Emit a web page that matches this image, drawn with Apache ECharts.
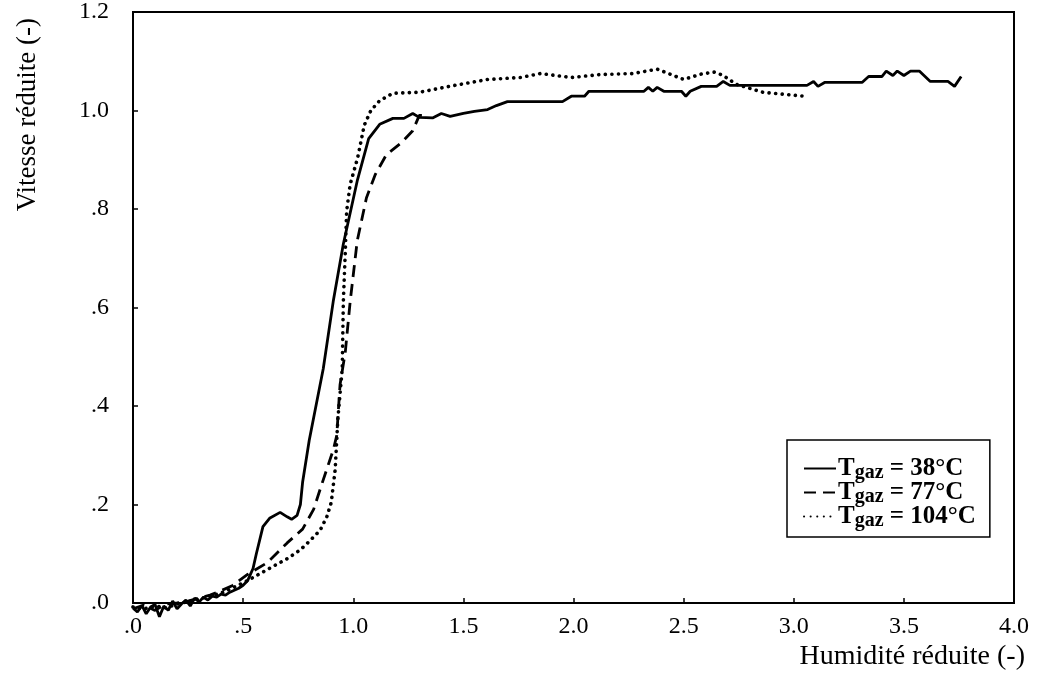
<!DOCTYPE html>
<html><head><meta charset="utf-8">
<script src="https://cdn.jsdelivr.net/npm/echarts@6/dist/echarts.min.js"></script>
<style>html,body{margin:0;padding:0;background:#fff}#c{width:1040px;height:681px}</style>
</head><body><div id="c"></div>
<script>
const xTicks = [0, 0.5, 1.0, 1.5, 2.0, 2.5, 3.0, 3.5, 4.0];
const yTicks = [0, 0.2, 0.4, 0.6, 0.8, 1.0, 1.2];
const seriesNames = ['Tgaz = 38°C', 'Tgaz = 77°C', 'Tgaz = 104°C'];
const seriesTemps = ['38°C', '77°C', '104°C'];

const t38 = [[0,-0.01],[0.02,-0.018],[0.04,-0.005],[0.06,-0.022],[0.08,-0.008],[0.1,-0.003],[0.12,-0.028],[0.14,-0.006],[0.16,-0.015],[0.18,0.004],[0.2,-0.012],[0.22,-0.002],[0.24,0.006],[0.26,-0.006],[0.28,0.01],[0.3,0.002],[0.32,0.012],[0.34,0.006],[0.36,0.014],[0.38,0.012],[0.4,0.018],[0.42,0.016],[0.44,0.022],[0.46,0.026],[0.48,0.03],[0.5,0.036],[0.52,0.045],[0.545,0.07],[0.56,0.1],[0.59,0.155],[0.62,0.172],[0.668,0.184],[0.7,0.175],[0.72,0.17],[0.745,0.178],[0.76,0.2],[0.77,0.245],[0.8,0.33],[0.864,0.476],[0.909,0.612],[0.955,0.729],[1.018,0.857],[1.07,0.943],[1.12,0.972],[1.18,0.984],[1.23,0.984],[1.27,0.994],[1.30,0.986],[1.36,0.985],[1.40,0.994],[1.44,0.988],[1.50,0.994],[1.55,0.998],[1.61,1.002],[1.65,1.01],[1.70,1.018],[1.95,1.018],[1.99,1.029],[2.05,1.029],[2.07,1.039],[2.32,1.039],[2.34,1.047],[2.36,1.039],[2.38,1.047],[2.41,1.039],[2.49,1.039],[2.51,1.029],[2.53,1.039],[2.58,1.049],[2.65,1.049],[2.68,1.059],[2.71,1.051],[3.06,1.051],[3.09,1.059],[3.11,1.049],[3.14,1.057],[3.31,1.057],[3.34,1.069],[3.40,1.069],[3.42,1.08],[3.45,1.071],[3.47,1.08],[3.50,1.071],[3.53,1.08],[3.57,1.08],[3.62,1.059],[3.70,1.059],[3.73,1.049],[3.76,1.069]];

const t77 = [[0,-0.012],[0.05,-0.004],[0.1,-0.015],[0.15,-0.002],[0.2,0.0],[0.25,0.004],[0.3,0.01],[0.35,0.016],[0.4,0.025],[0.45,0.035],[0.52,0.058],[0.61,0.082],[0.70,0.122],[0.77,0.15],[0.82,0.19],[0.86,0.245],[0.91,0.312],[0.925,0.34],[0.94,0.443],[0.964,0.51],[0.986,0.612],[1.018,0.735],[1.06,0.823],[1.10,0.87],[1.15,0.91],[1.22,0.935],[1.27,0.959],[1.30,0.99],[1.34,0.99]];

const t104 = [[0,-0.008],[0.05,-0.012],[0.1,-0.006],[0.15,-0.01],[0.2,-0.002],[0.25,0.003],[0.3,0.008],[0.35,0.014],[0.4,0.02],[0.45,0.03],[0.518,0.045],[0.61,0.068],[0.70,0.09],[0.76,0.108],[0.80,0.125],[0.85,0.148],[0.88,0.175],[0.90,0.204],[0.918,0.271],[0.93,0.373],[0.95,0.476],[0.955,0.612],[0.964,0.714],[0.97,0.796],[0.986,0.85],[1.02,0.904],[1.05,0.97],[1.08,1.0],[1.12,1.02],[1.18,1.035],[1.30,1.037],[1.46,1.051],[1.61,1.063],[1.76,1.067],[1.85,1.075],[1.99,1.067],[2.12,1.073],[2.27,1.075],[2.38,1.084],[2.50,1.063],[2.58,1.074],[2.64,1.078],[2.68,1.071],[2.74,1.053],[2.86,1.037],[3.05,1.029]];

const lineTypes = ['solid', [12, 7], [0.1, 6.5]];
const datasets = [t38, t77, t104];

function fmt(v) {
  const s = v.toFixed(1);
  return s.startsWith('0.') ? s.slice(1) : s;
}
const serif = 'Liberation Serif';
const chart = echarts.init(document.getElementById('c'));
chart.setOption({
  animation: false,
  backgroundColor: '#fff',
  grid: { left: 133, right: 26, top: 12, bottom: 78, show: true, borderColor: '#000', borderWidth: 2 },
  xAxis: {
    type: 'value', min: 0, max: 4, interval: 0.5,
    axisLine: { lineStyle: { color: '#000', width: 2 } },
    axisTick: { inside: true, length: 5, lineStyle: { color: '#000', width: 1.5 } },
    splitLine: { show: false },
    axisLabel: { color: '#000', fontFamily: serif, fontSize: 24, margin: 12, formatter: fmt }
  },
  yAxis: {
    type: 'value', min: 0, max: 1.2, interval: 0.2,
    axisLine: { show: true, lineStyle: { color: '#000', width: 2 } },
    axisTick: { show: true, inside: true, length: 5, lineStyle: { color: '#000', width: 1.5 } },
    splitLine: { show: false },
    axisLabel: { color: '#000', fontFamily: serif, fontSize: 24, margin: 24, formatter: fmt }
  },
  legend: {
    orient: 'vertical', left: 787, top: 440,
    backgroundColor: '#fff', borderColor: '#000', borderWidth: 1.5,
    padding: [14, 14, 6, 16], itemGap: -5, itemWidth: 32, itemHeight: 14,
    itemStyle: { opacity: 0 },
    data: seriesNames,
    formatter: function (name) {
      const i = seriesNames.indexOf(name);
      return '{t|T}{s|gaz}{t| = ' + seriesTemps[i] + '}';
    },
    textStyle: {
      color: '#000', fontFamily: serif, fontSize: 24, fontWeight: 'bold', padding: [0,0,0,-3],
      rich: {
        t: { fontFamily: serif, fontSize: 25, fontWeight: 'bold', color: '#000', lineHeight: 24 },
        s: { fontFamily: serif, fontSize: 20, fontWeight: 'bold', color: '#000', padding: [9, 0, 0, 0], lineHeight: 24 }
      }
    }
  },
  graphic: [
    { type: 'text', left: 14, top: 18, rotation: Math.PI / 2,
      style: { text: 'Vitesse réduite (-)', font: '27px "Liberation Serif"', fill: '#000' } },
    { type: 'text', right: 15, top: 643,
      style: { text: 'Humidité réduite (-)', font: '28px "Liberation Serif"', fill: '#000' } }
  ],
  series: seriesNames.map((n, i) => ({
    name: n, type: 'line', data: datasets[i], symbol: 'none', clip: false,
    lineStyle: { color: '#000', width: i === 2 ? 3.6 : 2.8, type: lineTypes[i], cap: i === 2 ? 'round' : 'butt' },
    itemStyle: { color: '#000' }
  }))
});
</script></body></html>
